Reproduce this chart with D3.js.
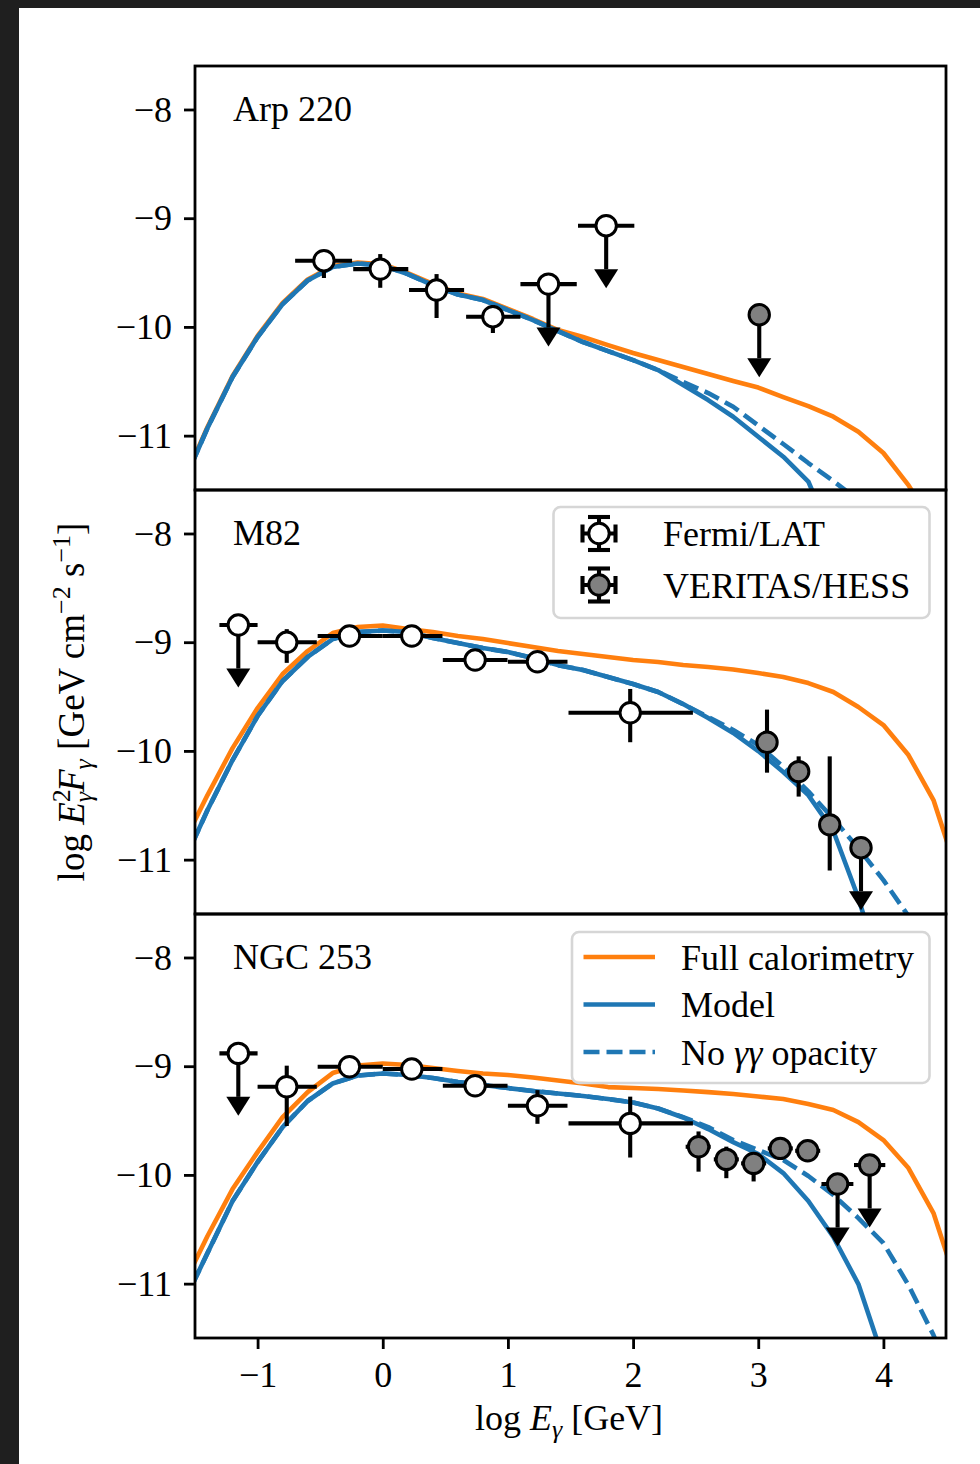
<!DOCTYPE html>
<html>
<head>
<meta charset="utf-8">
<script src="https://cdn.jsdelivr.net/npm/d3@7"></script>
<style>
  html, body { margin: 0; padding: 0; background: #1f1f1f; }
  svg { display: block; }
  text { font-family: "Liberation Serif", "Times New Roman", serif; fill: #000; }
</style>
</head>
<body>
<svg id="fig" width="980" height="1464"></svg>
<script>
// ---- model energy grid (log E / GeV) ----
const logE = [-1.6, -1.4, -1.2, -1.0, -0.8, -0.6, -0.4, -0.2, 0.0, 0.2, 0.4, 0.6, 0.8, 1.0, 1.2, 1.4,
              1.6, 1.8, 2.0, 2.2, 2.4, 2.6, 2.8, 3.0, 3.2, 3.4, 3.6, 3.8, 4.0, 4.2, 4.4, 4.6];

// ---- Arp 220 model spectra (log E^2 F) ----
const arpFull = [-11.445, -10.920, -10.451, -10.083, -9.780, -9.563, -9.439, -9.407, -9.425, -9.504, -9.605, -9.692,
                 -9.743, -9.835, -9.927, -10.029, -10.093, -10.167, -10.240, -10.305, -10.369, -10.433, -10.498, -10.558,
                 -10.645, -10.728, -10.826, -10.964, -11.160, -11.455, -11.823, null];
const arpModel = [-11.455, -10.930, -10.461, -10.093, -9.790, -9.573, -9.449, -9.417, -9.435, -9.514, -9.615, -9.702,
                  -9.753, -9.845, -9.937, -10.038, -10.139, -10.222, -10.305, -10.397, -10.535, -10.673, -10.826, -11.010,
                  -11.194, -11.422, -11.960, null, null, null, null, null];
const arpNoOpacity = [-11.455, -10.930, -10.461, -10.093, -9.790, -9.573, -9.449, -9.417, -9.435, -9.514, -9.615, -9.702,
                      -9.753, -9.845, -9.937, -10.038, -10.139, -10.222, -10.305, -10.397, -10.507, -10.608, -10.734, -10.907,
                      -11.077, -11.252, -11.418, -11.593, null, null, null, null];

// ---- M82 model spectra ----
const m82Full = [-10.866, -10.406, -9.974, -9.606, -9.293, -9.081, -8.916, -8.860, -8.847, -8.879, -8.906, -8.943,
                 -8.971, -9.008, -9.044, -9.081, -9.109, -9.136, -9.164, -9.182, -9.210, -9.228, -9.251, -9.284,
                 -9.320, -9.376, -9.458, -9.596, -9.762, -10.038, -10.452, -11.160];
const m82Model = [-11.050, -10.544, -10.084, -9.679, -9.357, -9.136, -8.971, -8.906, -8.893, -8.906, -8.962, -9.008,
                  -9.054, -9.090, -9.146, -9.211, -9.256, -9.320, -9.385, -9.458, -9.569, -9.698, -9.835, -10.001,
                  -10.194, -10.406, -10.737, -11.353, -12.110, null, null, null];
const m82NoOpacity = [-11.050, -10.544, -10.084, -9.679, -9.357, -9.136, -8.971, -8.906, -8.893, -8.906, -8.962, -9.008,
                      -9.054, -9.090, -9.146, -9.211, -9.256, -9.320, -9.385, -9.458, -9.569, -9.688, -9.808, -9.946,
                      -10.145, -10.372, -10.624, -10.896, -11.188, -11.519, null, null];

// ---- NGC 253 model spectra ----
const ngcFull = [-11.031, -10.562, -10.130, -9.790, -9.468, -9.238, -9.063, -8.994, -8.975, -8.989, -9.017, -9.044,
                 -9.067, -9.081, -9.104, -9.132, -9.159, -9.192, -9.201, -9.210, -9.224, -9.238, -9.256, -9.279,
                 -9.302, -9.348, -9.403, -9.514, -9.679, -9.937, -10.351, -11.060];
const ngcModel = [-11.197, -10.719, -10.240, -9.882, -9.560, -9.320, -9.159, -9.086, -9.067, -9.081, -9.109, -9.146,
                  -9.173, -9.201, -9.228, -9.251, -9.274, -9.302, -9.334, -9.389, -9.472, -9.578, -9.698, -9.808,
                  -9.983, -10.240, -10.571, -11.004, -11.694, null, null, null];
const ngcNoOpacity = [-11.197, -10.719, -10.240, -9.882, -9.560, -9.320, -9.159, -9.086, -9.067, -9.081, -9.109, -9.146,
                      -9.173, -9.201, -9.228, -9.251, -9.274, -9.302, -9.334, -9.389, -9.468, -9.560, -9.679, -9.771,
                      -9.863, -10.010, -10.185, -10.397, -10.627, -11.013, -11.473, -12.030];

// ---- measured fluxes: e = log E, f = log E^2 F, bin edges and flux error range; ul = upper limit ----
const arpFermi = [
  { e: -0.47, f: -9.391, eLo: -0.70, eHi: -0.245, fLo: -9.550, fHi: -9.300 },
  { e: -0.02, f: -9.468, eLo: -0.236, eHi: 0.204, fLo: -9.640, fHi: -9.330 },
  { e: 0.43, f: -9.661, eLo: 0.21, eHi: 0.65, fLo: -9.918, fHi: -9.514 },
  { e: 0.88, f: -9.906, eLo: 0.666, eHi: 1.10, fLo: -10.056, fHi: -9.800 },
  { e: 1.324, f: -9.606, eLo: 1.10, eHi: 1.55, ul: true },
  { e: 1.785, f: -9.069, eLo: 1.56, eHi: 2.01, ul: true }
];
const arpVeritas = [
  { e: 3.008, f: -9.888, ul: true }
];
const m82Fermi = [
  { e: -1.154, f: -8.842, eLo: -1.305, eHi: -1.0, ul: true },
  { e: -0.767, f: -9.001, eLo: -1.0, eHi: -0.527, fLo: -9.19, fHi: -8.88 },
  { e: -0.266, f: -8.943, eLo: -0.52, eHi: 0.0, fLo: -8.99, fHi: -8.90 },
  { e: 0.232, f: -8.943, eLo: 0.0, eHi: 0.477, fLo: -8.99, fHi: -8.90 },
  { e: 0.738, f: -9.164, eLo: 0.48, eHi: 0.997, fLo: -9.21, fHi: -9.12 },
  { e: 1.236, f: -9.180, eLo: 1.0, eHi: 1.476, fLo: -9.23, fHi: -9.13 },
  { e: 1.977, f: -9.649, eLo: 1.484, eHi: 2.478, fLo: -9.92, fHi: -9.43 }
];
const m82Veritas = [
  { e: 3.07, f: -9.92, fLo: -10.20, fHi: -9.62 },
  { e: 3.323, f: -10.19, fLo: -10.42, fHi: -10.05 },
  { e: 3.571, f: -10.68, fLo: -11.10, fHi: -10.05 },
  { e: 3.821, f: -10.89, ul: true }
];
const ngcFermi = [
  { e: -1.154, f: -8.882, eLo: -1.305, eHi: -1.0, ul: true },
  { e: -0.767, f: -9.189, eLo: -1.0, eHi: -0.527, fLo: -9.55, fHi: -8.995 },
  { e: -0.266, f: -9.005, eLo: -0.52, eHi: 0.0, fLo: -9.05, fHi: -8.96 },
  { e: 0.232, f: -9.026, eLo: 0.0, eHi: 0.477, fLo: -9.07, fHi: -8.98 },
  { e: 0.738, f: -9.180, eLo: 0.48, eHi: 0.997, fLo: -9.22, fHi: -9.14 },
  { e: 1.236, f: -9.364, eLo: 1.0, eHi: 1.476, fLo: -9.53, fHi: -9.22 },
  { e: 1.977, f: -9.526, eLo: 1.484, eHi: 2.478, fLo: -9.84, fHi: -9.28 }
];
const ngcVeritas = [
  { e: 2.523, f: -9.741, eLo: 2.42, eHi: 2.62, fLo: -9.97, fHi: -9.60 },
  { e: 2.745, f: -9.857, eLo: 2.645, eHi: 2.845, fLo: -10.03, fHi: -9.74 },
  { e: 2.963, f: -9.894, eLo: 2.863, eHi: 3.063, fLo: -10.06, fHi: -9.79 },
  { e: 3.176, f: -9.756, eLo: 3.076, eHi: 3.276, fLo: -9.80, fHi: -9.70 },
  { e: 3.395, f: -9.778, eLo: 3.295, eHi: 3.495, fLo: -9.83, fHi: -9.72 },
  { e: 3.634, f: -10.084, eLo: 3.505, eHi: 3.76, ul: true },
  { e: 3.89, f: -9.909, eLo: 3.765, eHi: 4.015, ul: true }
];

// ---- axes ----
const xTicks = [-1, 0, 1, 2, 3, 4];
const yTicks = [-8, -9, -10, -11];
const xDomain = [-1.5, 4.5];
const yDomain = [-11.5, -7.6];
const limitArrow = 0.4;   // stem length of upper-limit arrows, dex

const panels = [
  { name: "Arp 220", full: arpFull, model: arpModel, noOpacity: arpNoOpacity, fermi: arpFermi, veritas: arpVeritas },
  { name: "M82",     full: m82Full, model: m82Model, noOpacity: m82NoOpacity, fermi: m82Fermi, veritas: m82Veritas },
  { name: "NGC 253", full: ngcFull, model: ngcModel, noOpacity: ngcNoOpacity, fermi: ngcFermi, veritas: ngcVeritas }
];

const ORANGE = "#ff7f0e", BLUE = "#1f77b4", GREY = "#808080";
const FS = 36;
const LW = 4.6, EW = 4.1, DASH = "16,7";
const R = 10.2, RW = 3.0;
const minus = s => String(s).replace("-", "\u2212");

const svg = d3.select("#fig");
svg.append("rect").attr("x", 19).attr("y", 8).attr("width", 961).attr("height", 1456).attr("fill", "#ffffff");

const X0 = 195, X1 = 946, TOP = 66, PH = 424;
const x = d3.scaleLinear().domain(xDomain).range([X0, X1]);

panels.forEach((p, i) => {
  const top = TOP + i * PH;
  const y = d3.scaleLinear().domain(yDomain).range([top + PH, top]);
  const g = svg.append("g");

  const clipId = "clip" + i;
  svg.append("clipPath").attr("id", clipId)
    .append("rect").attr("x", X0).attr("y", top).attr("width", X1 - X0).attr("height", PH);

  const line = d3.line()
    .defined(d => d[1] != null)
    .x(d => x(d[0])).y(d => y(d[1]));

  const curves = g.append("g").attr("clip-path", `url(#${clipId})`);
  [[p.full, ORANGE, null], [p.model, BLUE, null], [p.noOpacity, BLUE, DASH]].forEach(([vals, col, dash]) => {
    curves.append("path")
      .attr("d", line(logE.map((e, k) => [e, vals[k]])))
      .attr("fill", "none").attr("stroke", col).attr("stroke-width", LW)
      .attr("stroke-dasharray", dash)
      .attr("stroke-linejoin", "round");
  });

  // data points with error bars / upper-limit arrows
  const drawPoints = (pts, fill) => {
    pts.forEach(d => {
      const pg = g.append("g");
      const cx = x(d.e), cy = y(d.f);
      if (d.eLo != null) {
        pg.append("line").attr("x1", x(d.eLo)).attr("x2", x(d.eHi)).attr("y1", cy).attr("y2", cy)
          .attr("stroke", "#000").attr("stroke-width", EW);
      }
      if (d.ul) {
        const yb = y(d.f - limitArrow);
        pg.append("line").attr("x1", cx).attr("x2", cx).attr("y1", cy).attr("y2", yb)
          .attr("stroke", "#000").attr("stroke-width", EW);
        pg.append("path")
          .attr("d", `M${cx - 12},${yb} L${cx + 12},${yb} L${cx},${yb + 19} Z`)
          .attr("fill", "#000");
      } else if (d.fLo != null) {
        pg.append("line").attr("x1", cx).attr("x2", cx).attr("y1", y(d.fLo)).attr("y2", y(d.fHi))
          .attr("stroke", "#000").attr("stroke-width", EW);
      }
      pg.append("circle").attr("cx", cx).attr("cy", cy).attr("r", R)
        .attr("fill", fill).attr("stroke", "#000").attr("stroke-width", RW);
    });
  };
  drawPoints(p.fermi, "#ffffff");
  drawPoints(p.veritas, GREY);

  // y axis
  const yAxis = d3.axisLeft(y).tickValues(yTicks).tickFormat(minus).tickSize(11).tickPadding(12).tickSizeOuter(0);
  const ya = g.append("g").attr("transform", `translate(${X0},0)`).call(yAxis);
  ya.select(".domain").remove();
  ya.selectAll(".tick line").attr("stroke", "#000").attr("stroke-width", 2.8);
  ya.selectAll(".tick text").attr("font-size", FS).attr("fill", "#000");

  // x axis only on the bottom panel
  if (i === panels.length - 1) {
    const xAxis = d3.axisBottom(x).tickValues(xTicks).tickFormat(minus).tickSize(11).tickPadding(12).tickSizeOuter(0);
    const xa = g.append("g").attr("transform", `translate(0,${top + PH})`).call(xAxis);
    xa.select(".domain").remove();
    xa.selectAll(".tick line").attr("stroke", "#000").attr("stroke-width", 2.8);
    xa.selectAll(".tick text").attr("font-size", FS).attr("fill", "#000");
  }

  // frame
  g.append("rect").attr("x", X0).attr("y", top).attr("width", X1 - X0).attr("height", PH)
    .attr("fill", "none").attr("stroke", "#000").attr("stroke-width", 2.8);

  // panel name
  g.append("text").attr("x", 233).attr("y", top + 55).attr("font-size", FS).text(p.name);
});

// ---- legend: instruments (middle panel) ----
{
  const lg = svg.append("g");
  lg.append("rect").attr("x", 553.5).attr("y", 507).attr("width", 376).attr("height", 111).attr("rx", 7)
    .attr("fill", "#ffffff").attr("fill-opacity", 0.8).attr("stroke", "#d6d6d6").attr("stroke-width", 2.6);
  [["Fermi/LAT", "#ffffff"], ["VERITAS/HESS", GREY]].forEach(([label, fill], k) => {
    const cy = 533.5 + k * 51.5, cx = 599;
    lg.append("line").attr("x1", cx - 16.5).attr("x2", cx + 16.5).attr("y1", cy).attr("y2", cy)
      .attr("stroke", "#000").attr("stroke-width", EW);
    lg.append("line").attr("x1", cx).attr("x2", cx).attr("y1", cy - 16.5).attr("y2", cy + 16.5)
      .attr("stroke", "#000").attr("stroke-width", EW);
    [-16.5, 16.5].forEach(o => {
      lg.append("line").attr("x1", cx + o).attr("x2", cx + o).attr("y1", cy - 9).attr("y2", cy + 9)
        .attr("stroke", "#000").attr("stroke-width", EW);
      lg.append("line").attr("x1", cx - 11).attr("x2", cx + 11).attr("y1", cy + o).attr("y2", cy + o)
        .attr("stroke", "#000").attr("stroke-width", EW);
    });
    lg.append("circle").attr("cx", cx).attr("cy", cy).attr("r", R)
      .attr("fill", fill).attr("stroke", "#000").attr("stroke-width", RW);
    lg.append("text").attr("x", 663).attr("y", cy + 12.5).attr("font-size", FS).text(label);
  });
}

// ---- legend: model curves (bottom panel) ----
{
  const lg = svg.append("g");
  lg.append("rect").attr("x", 572).attr("y", 932).attr("width", 357.5).attr("height", 151).attr("rx", 7)
    .attr("fill", "#ffffff").attr("fill-opacity", 0.8).attr("stroke", "#d6d6d6").attr("stroke-width", 2.6);
  const rows = [
    { col: ORANGE, dash: null, parts: [["Full calorimetry", false]] },
    { col: BLUE, dash: null, parts: [["Model", false]] },
    { col: BLUE, dash: DASH, parts: [["No ", false], ["\u03b3\u03b3", true], [" opacity", false]] }
  ];
  rows.forEach((r, k) => {
    const cy = 957 + k * 47.5;
    lg.append("line").attr("x1", 583.5).attr("x2", 655).attr("y1", cy).attr("y2", cy)
      .attr("stroke", r.col).attr("stroke-width", LW).attr("stroke-dasharray", r.dash);
    const t = lg.append("text").attr("x", 681).attr("y", cy + 12.5).attr("font-size", FS);
    r.parts.forEach(([s, it]) => t.append("tspan").attr("font-style", it ? "italic" : null).text(s));
  });
}

// ---- axis titles ----
{
  const t = svg.append("text").attr("x", 569).attr("y", 1430).attr("font-size", FS).attr("text-anchor", "middle");
  t.append("tspan").text("log ");
  t.append("tspan").attr("font-style", "italic").text("E");
  t.append("tspan").attr("font-style", "italic").attr("font-size", 26).attr("dy", 8).text("\u03b3");
  t.append("tspan").attr("dy", -8).text(" [GeV]");
}
{
  const t = svg.append("text").attr("font-size", 37).attr("text-anchor", "middle")
    .attr("transform", "translate(84,702) rotate(-90)");
  t.append("tspan").text("log ");
  t.append("tspan").attr("font-style", "italic").text("E");
  t.append("tspan").attr("font-size", 26).attr("dy", -14).text("2");
  t.append("tspan").attr("font-style", "italic").attr("font-size", 26).attr("dx", -13).attr("dy", 22).text("\u03b3");
  t.append("tspan").attr("font-style", "italic").attr("dy", -8).text("F");
  t.append("tspan").attr("font-style", "italic").attr("font-size", 26).attr("dy", 8).text("\u03b3");
  t.append("tspan").attr("dy", -8).text(" [GeV cm");
  t.append("tspan").attr("font-size", 26).attr("dy", -14).text("\u22122");
  t.append("tspan").attr("dy", 14).text(" s");
  t.append("tspan").attr("font-size", 26).attr("dy", -14).text("\u22121");
  t.append("tspan").attr("dy", 14).text("]");
}
</script>
</body>
</html>
